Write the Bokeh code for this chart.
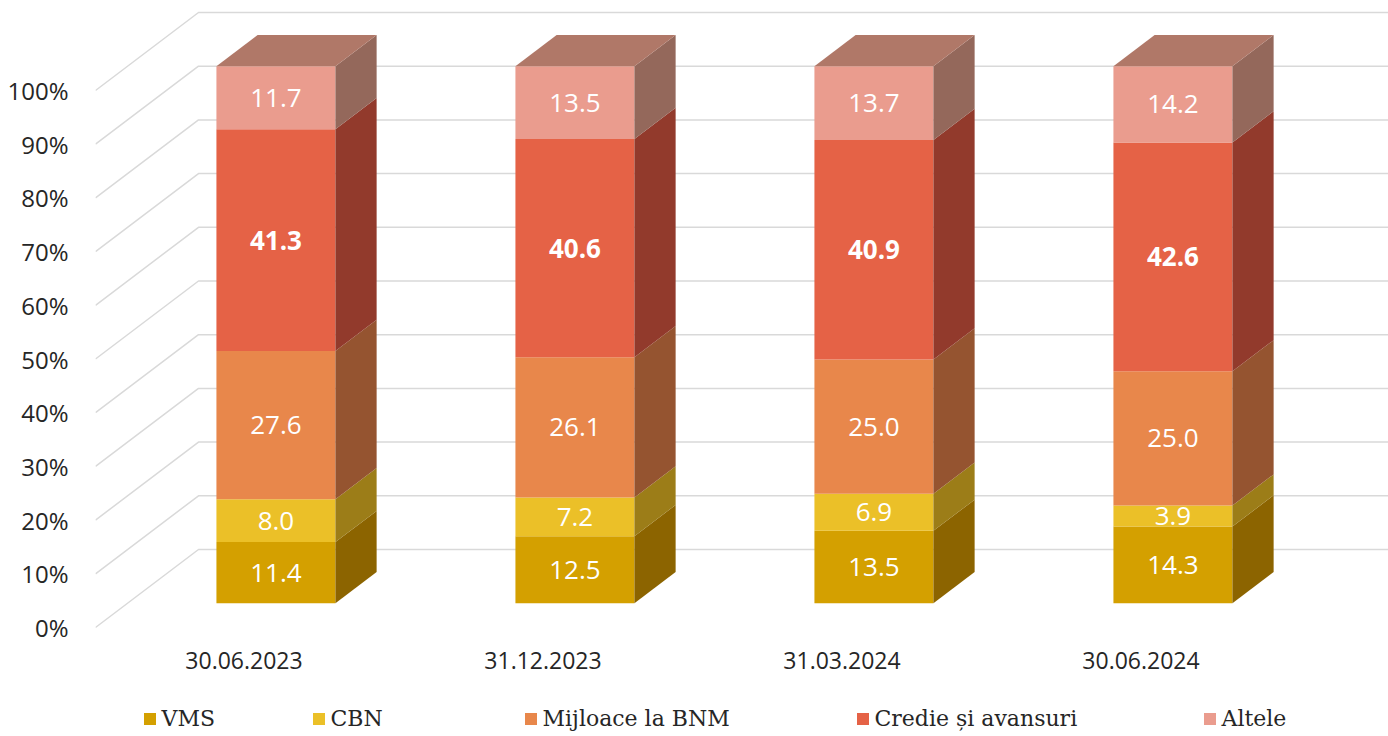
from bokeh.plotting import figure
from bokeh.models import (Range1d, FixedTicker, PrintfTickFormatter, Legend, LegendItem,
                          ColumnDataSource)
from bokeh.embed import file_html
from bokeh.resources import INLINE
from bokeh.core.properties import value

# ---------------- data ----------------
categories = ["30.06.2023", "31.12.2023", "31.03.2024", "30.06.2024"]
series_names = ["VMS", "CBN", "Mijloace la BNM", "Credie și avansuri", "Altele"]
vms = [11.4, 12.5, 13.5, 14.3]
cbn = [8.0, 7.2, 6.9, 3.9]
mijloace = [27.6, 26.1, 25.0, 25.0]
credite = [41.3, 40.6, 40.9, 42.6]
altele = [11.7, 13.5, 13.7, 14.2]
y_ticks = [0, 10, 20, 30, 40, 50, 60, 70, 80, 90, 100]

series_values = [vms, cbn, mijloace, credite, altele]
front_colors = ["#D4A000", "#EBC028", "#E8874B", "#E56246", "#EA9C8E"]
side_colors = ["#8C6400", "#9C7D18", "#955430", "#923A2C", "#94685B"]
top_color = "#B07868"

# ---------------- geometry (pixel scale -> data units) ----------------
W, H = 1388, 736
FRAME_LEFT = 95
PX_CAT = 299.0   # pixels per category
PX_PCT = 5.37    # pixels per percent
X0_PX = 243.5    # page x of first category centre (front plane)
Y0_PX = 627.0    # page y of 0% (front plane)
DX = 103.0 / PX_CAT     # full depth vector (x)
DY = 78.0 / PX_PCT      # full depth vector (y)
D0, D1 = 0.31, 0.71     # bar depth placement
HW = 59.5 / PX_CAT      # half bar width

x_lo = (FRAME_LEFT - X0_PX) / PX_CAT
x_hi = (W - X0_PX) / PX_CAT
y_hi = Y0_PX / PX_PCT
y_lo = (Y0_PX - H) / PX_PCT

p = figure(width=W, height=H, output_backend="svg", toolbar_location=None,
           x_range=Range1d(x_lo, x_hi), y_range=Range1d(y_lo, y_hi),
           x_axis_location=None,
           min_border_left=FRAME_LEFT, min_border_right=0, min_border_top=0, min_border_bottom=0,
           background_fill_color="white", border_fill_color="white")
p.outline_line_color = None
p.xgrid.visible = False
p.ygrid.visible = False

# y axis
ya = p.yaxis[0]
ya.ticker = FixedTicker(ticks=y_ticks)
ya.formatter = PrintfTickFormatter(format="%d%%")
ya.axis_line_color = None
ya.major_tick_line_color = None
ya.minor_tick_line_color = None
ya.major_label_standoff = 21
ya.major_label_text_font = "Open Sans"
ya.major_label_text_font_size = "24px"
ya.major_label_text_color = "#262626"

# 3D gridlines: floor diagonal + back wall horizontal
gx, gy = [], []
for t in y_ticks:
    gx.append([x_lo, x_lo + DX, x_hi + 0.1])
    gy.append([t, t + DY, t + DY])
p.multi_line(gx, gy, line_color="#D9D9D9", line_width=1.5)

# category labels (on the front floor edge)
cat_y = -33.0 / PX_PCT
p.text(x=list(range(len(categories))), y=[cat_y] * len(categories), text=categories,
       text_color="#262626", text_align="center", text_baseline="middle",
       text_font=value("Open Sans"), text_font_size="23px")

# bars
ox, oy = D0 * DX, D0 * DY
bdx, bdy = (D1 - D0) * DX, (D1 - D0) * DY
n = len(categories)
totals = [sum(s[i] for s in series_values) for i in range(n)]

side_xs, side_ys, side_cols = [], [], []
top_xs, top_ys = [], []
front_renderers = []
lab_norm = {"x": [], "y": [], "t": []}
lab_bold = {"x": [], "y": [], "t": []}

cum = [0.0] * n
for k, vals in enumerate(series_values):
    left, right, bottom, top = [], [], [], []
    for i in range(n):
        v = vals[i] / totals[i] * 100.0
        y0, y1 = cum[i], cum[i] + v
        xl = i - HW + ox
        xr = i + HW + ox
        left.append(xl); right.append(xr)
        bottom.append(y0 + oy); top.append(y1 + oy)
        side_xs.append([xr, xr + bdx, xr + bdx, xr])
        side_ys.append([y0 + oy, y0 + oy + bdy, y1 + oy + bdy, y1 + oy])
        side_cols.append(side_colors[k])
        if k == len(series_values) - 1:
            top_xs.append([xl, xr, xr + bdx, xl + bdx])
            top_ys.append([y1 + oy, y1 + oy, y1 + oy + bdy, y1 + oy + bdy])
        d = lab_bold if k == 3 else lab_norm
        d["x"].append(i + ox)
        d["y"].append((y0 + y1) / 2 + oy)
        d["t"].append("%.1f" % vals[i])
        cum[i] = y1
    r = p.quad(left=left, right=right, bottom=bottom, top=top,
               fill_color=front_colors[k], line_color=None)
    front_renderers.append(r)

p.patches(side_xs, side_ys, fill_color=side_cols, line_color=None)
p.patches(top_xs, top_ys, fill_color=top_color, line_color=None)

p.text(x="x", y="y", text="t", source=ColumnDataSource(lab_norm),
       text_color="white", text_align="center", text_baseline="middle",
       text_font=value("Open Sans"), text_font_size="26px")
p.text(x="x", y="y", text="t", source=ColumnDataSource(lab_bold),
       text_color="white", text_align="center", text_baseline="middle",
       text_font=value("Open Sans"), text_font_size="26px", text_font_style="bold")

# legends (one per entry, spaced like reference), inside the frame near the bottom
leg_px = [143, 312, 524, 856, 1203]
for k, name in enumerate(series_names):
    lg = Legend(items=[LegendItem(label=name, renderers=[front_renderers[k]])],
                location=(leg_px[k] - 1.5 - FRAME_LEFT, 5), orientation="horizontal",
                padding=0, margin=0, border_line_color=None,
                background_fill_alpha=0, glyph_width=15, glyph_height=15,
                label_height=20, label_standoff=5,
                label_text_font="DejaVu Serif", label_text_font_size="22px",
                label_text_color="#262626")
    p.add_layout(lg, "center")

open("out.html", "w").write(file_html(p, INLINE))
